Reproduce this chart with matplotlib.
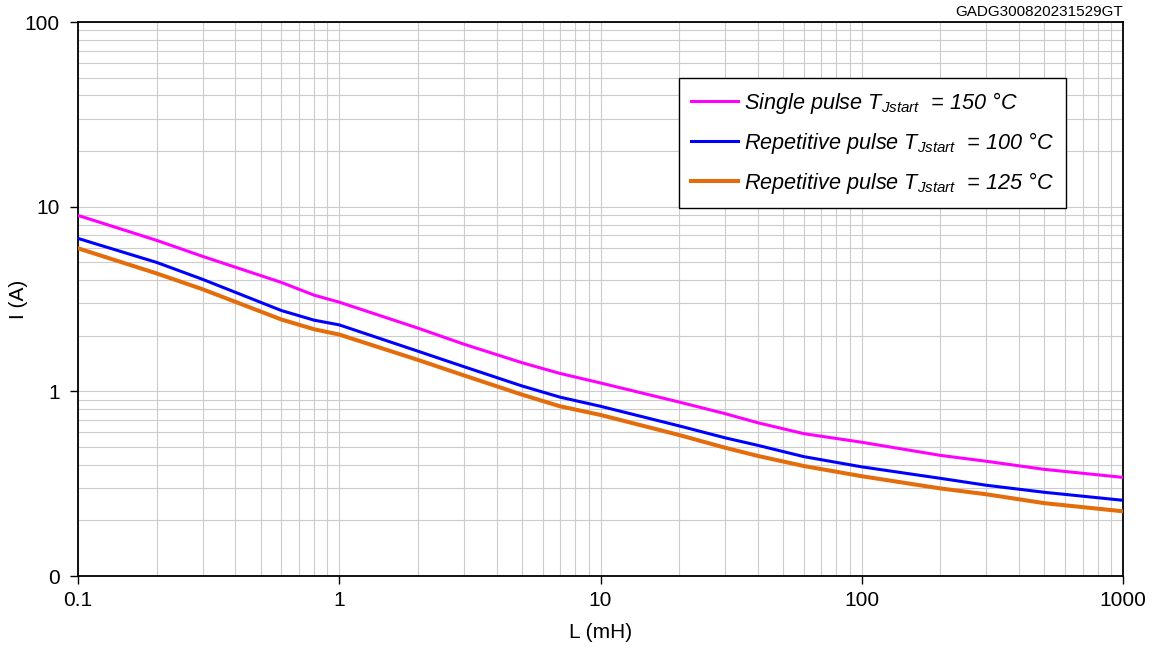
import matplotlib
matplotlib.use("Agg")
import matplotlib.pyplot as plt
from matplotlib.ticker import FixedLocator, FixedFormatter, NullFormatter, LogLocator

plt.rcParams['font.family'] = ['Liberation Sans', 'DejaVu Sans']
plt.rcParams['mathtext.fontset'] = 'custom'
plt.rcParams['mathtext.it'] = 'Liberation Sans:italic'
plt.rcParams['mathtext.rm'] = 'Liberation Sans:italic'

L_mH = [0.1, 0.2, 0.3, 0.6, 0.8, 1, 2, 3, 5, 7, 10, 20, 30, 40, 60, 100, 200, 300, 500, 1000]
I_single_150 = [8.97, 6.57, 5.38, 3.89, 3.32, 3.04, 2.20, 1.80, 1.43, 1.25, 1.11, 0.875, 0.757, 0.676, 0.59, 0.53, 0.45, 0.418, 0.378, 0.342]
I_rep_100 = [6.73, 4.99, 4.04, 2.74, 2.43, 2.29, 1.65, 1.36, 1.07, 0.93, 0.83, 0.65, 0.56, 0.51, 0.443, 0.39, 0.338, 0.31, 0.284, 0.257]
I_rep_125 = [5.95, 4.35, 3.57, 2.45, 2.17, 2.03, 1.48, 1.22, 0.96, 0.83, 0.745, 0.58, 0.495, 0.447, 0.394, 0.347, 0.298, 0.277, 0.248, 0.224]

series_labels = [
    r"Single pulse $T_{Jstart}$  = 150 °C",
    r"Repetitive pulse $T_{Jstart}$  = 100 °C",
    r"Repetitive pulse $T_{Jstart}$  = 125 °C",
]
x_ticks = [0.1, 1, 10, 100, 1000]
x_ticklabels = ["0.1", "1", "10", "100", "1000"]
y_ticks = [0.1, 1, 10, 100]
y_ticklabels = ["0", "1", "10", "100"]

fig = plt.figure(figsize=(11.59, 6.47), dpi=100)
ax = fig.add_axes([78/1159, 1-576/647, (1123-78)/1159, (576-22)/647])

ax.plot(L_mH, I_single_150, color='#FF00FF', lw=2.2, label=series_labels[0], zorder=3)
ax.plot(L_mH, I_rep_100, color='#0000FF', lw=2.2, label=series_labels[1], zorder=3)
ax.plot(L_mH, I_rep_125, color='#E46C0A', lw=2.9, label=series_labels[2], zorder=3)

ax.set_xscale('log')
ax.set_yscale('log')
ax.set_xlim(0.1, 1000)
ax.set_ylim(0.1, 100)

ax.xaxis.set_major_locator(FixedLocator(x_ticks))
ax.xaxis.set_major_formatter(FixedFormatter(x_ticklabels))
ax.yaxis.set_major_locator(FixedLocator(y_ticks))
ax.yaxis.set_major_formatter(FixedFormatter(y_ticklabels))
ax.xaxis.set_minor_locator(LogLocator(base=10, subs=range(2, 10), numticks=20))
ax.yaxis.set_minor_locator(LogLocator(base=10, subs=range(2, 10), numticks=20))
ax.xaxis.set_minor_formatter(NullFormatter())
ax.yaxis.set_minor_formatter(NullFormatter())

ax.tick_params(which='major', direction='out', length=6, width=1, labelsize=15, color='black')
ax.tick_params(which='minor', length=0)
ax.tick_params(axis='x', pad=5)
ax.tick_params(axis='y', pad=7)

ax.grid(True, which='both', color='#cccccc', lw=0.8, zorder=0)
ax.set_axisbelow(True)
for s in ax.spines.values():
    s.set_color('black')
    s.set_linewidth(1.3)

ax.set_xlabel("L (mH)", fontsize=15)
ax.set_ylabel("I (A)", fontsize=15)
ax.xaxis.set_label_coords(0.5, -(633-576)/554)
ax.yaxis.set_label_coords((18-78)/1045, 0.5)
ax.xaxis.label.set_va('center')
ax.yaxis.label.set_va('center')

leg = ax.legend(loc='upper left', bbox_to_anchor=(0.575, 0.899),
                handlelength=2.2, handletextpad=0.25, labelspacing=0.64,
                borderpad=0.55, borderaxespad=0, fancybox=False, framealpha=1,
                edgecolor='black', prop={'style': 'italic', 'size': 15.6})
leg.get_frame().set_linewidth(1.0)

fig.text(1123/1159, 1-12/647, "GADG300820231529GT", ha='right', va='center', fontsize=11)

fig.savefig("out.png", dpi=100)
